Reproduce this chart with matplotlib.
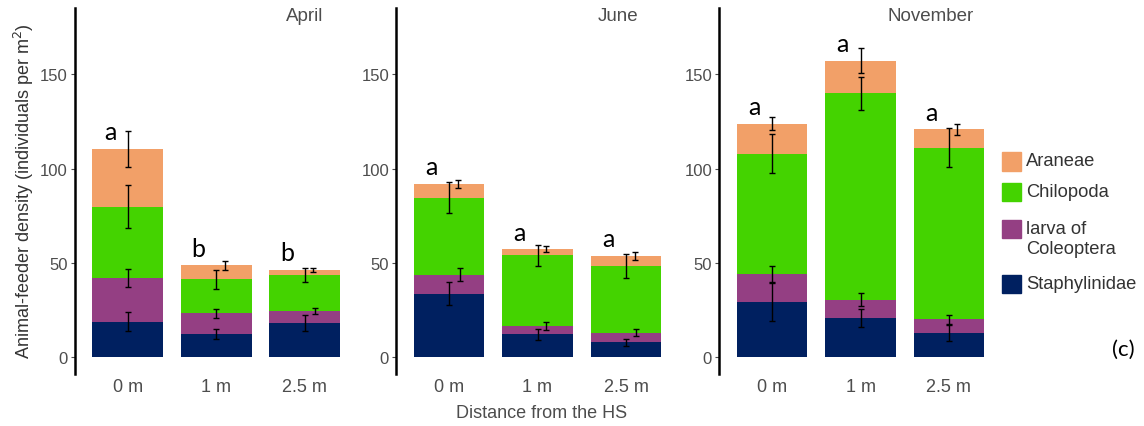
import numpy as np
import matplotlib
matplotlib.use("Agg")
import matplotlib.pyplot as plt
from matplotlib.patches import Rectangle

plt.rcParams['font.family'] = ['Liberation Sans', 'DejaVu Sans']

months = ["April", "June", "November"]
distances = ["0 m", "1 m", "2.5 m"]
taxa = ["Staphylinidae", "larva of\nColeoptera", "Chilopoda", "Araneae"]

# segment heights (individuals per m2), rows = month, cols = distance
staphylinidae = [[18.9, 12.4, 18.2], [33.7, 12.3, 8.1], [29.2, 21.0, 12.9]]
larva_coleoptera = [[23.1, 10.9, 6.4], [10.2, 4.4, 4.9], [15.0, 9.6, 7.4]]
chilopoda = [[37.9, 18.2, 19.0], [40.8, 37.3, 35.4], [63.8, 109.3, 90.9]]
araneae = [[30.6, 7.3, 2.9], [7.4, 3.4, 5.5], [15.9, 17.4, 9.6]]

# standard errors
se_staphylinidae = [[5.0, 2.5, 4.0], [6.0, 3.0, 1.9], [10.0, 4.7, 4.2]]
se_larva = [[4.7, 2.3, 1.8], [3.4, 2.0, 1.8], [4.2, 3.5, 2.4]]
se_chilopoda = [[11.2, 5.0, 3.7], [8.0, 5.8, 6.2], [10.4, 8.7, 10.3]]
se_araneae = [[9.7, 2.5, 1.0], [2.1, 1.7, 2.2], [3.4, 6.5, 2.8]]

letters = [["a", "b", "b"], ["a", "a", "a"], ["a", "a", "a"]]

colors = ["#002060", "#943F83", "#44D300", "#F2A068"]

# small horizontal nudges of the error bars (layout only)
err_shift = {
    0: [[0, 0, 0], [0, 0, 0.12], [0, 0, 0], [0, 0.1, 0.1]],
    1: [[0, 0, 0], [0.12, 0.1, 0.11], [0, 0, 0], [0.1, 0.1, 0.1]],
    2: [[0, 0, 0], [0, 0, 0], [0, 0, 0], [0, 0, 0.09]],
}
title_x = [2.0, 1.91, 1.79]

segments = [staphylinidae, larva_coleoptera, chilopoda, araneae]
errors = [se_staphylinidae, se_larva, se_chilopoda, se_araneae]

W, H = 1144, 427
fig = plt.figure(figsize=(W / 100, H / 100), dpi=100)
lefts = [74.7 / W, 396 / W, 719 / W]
grey = "#4d4d4d"

x = np.arange(3)
for m, month in enumerate(months):
    ax = fig.add_axes([lefts[m], 0.1218, 283 / W, 0.8564])
    bottom = np.zeros(3)
    for t in range(4):
        h = np.array(segments[t][m])
        ax.bar(x, h, bottom=bottom, width=0.8, color=colors[t], zorder=2)
        top = bottom + h
        ax.errorbar(x + np.array(err_shift[m][t]), top, yerr=errors[t][m],
                    fmt="none", ecolor="black", elinewidth=1.0, capsize=2.2,
                    capthick=1.0, zorder=3)
        bottom = top
    for i in range(3):
        ax.text(x[i] - 0.2, bottom[i] + 5.0, letters[m][i], ha="center",
                va="baseline", fontsize=18, family=["Lato", "DejaVu Sans"])
    ax.text(title_x[m], 181, month, ha="center", va="center", fontsize=13.5,
            color=grey)
    ax.set_xlim(-0.6, 2.6)
    ax.set_ylim(-8.8, 185)
    ax.set_yticks([0, 50, 100, 150])
    ax.set_xticks(x)
    ax.set_xticklabels(distances)
    ax.tick_params(axis="y", labelsize=12, labelcolor=grey, length=3,
                   color=grey, pad=2)
    ax.tick_params(axis="x", labelsize=13, labelcolor=grey, length=0, pad=3)
    for s in ["top", "right", "bottom"]:
        ax.spines[s].set_visible(False)
    ax.spines["left"].set_linewidth(1.8)
    ax.spines["left"].set_color("black")
    ax.patch.set_alpha(0)

fig.text(24 / W, 1 - 191 / H,
         r"Animal-feeder density (individuals per m$^2$)", rotation=90,
         ha="center", va="center", fontsize=13, color="#333333")
fig.text(541.7 / W, 1 - 414 / H, "Distance from the HS", ha="center",
         va="center", fontsize=13, color=grey)

# legend drawn by hand (Araneae on top)
leg_rows = [162.5, 193, 230, 285]
for row, t in zip(leg_rows, [3, 2, 1, 0]):
    fig.patches.append(Rectangle((1002 / W, 1 - (row + 9.2) / H), 19 / W,
                                 18.4 / H, transform=fig.transFigure,
                                 color=colors[t]))
    fig.text(1026 / W, 1 - (row - 9) / H, taxa[t], ha="left", va="top",
             fontsize=13.2, color="#333333", linespacing=1.2)
fig.text(1123 / W, 1 - 350 / H, "(c)", ha="center", va="center",
         fontsize=16, family=["Lato", "DejaVu Sans"])

fig.savefig("out.png", dpi=100)
